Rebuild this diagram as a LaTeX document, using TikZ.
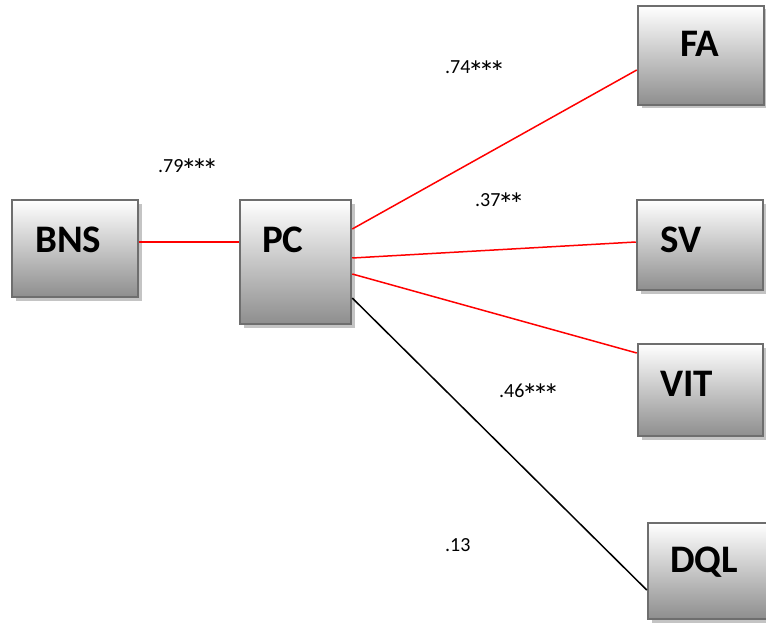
\documentclass[tikz,border=0pt]{standalone}
\usepackage{fontspec}
\setmainfont{Carlito}
\usetikzlibrary{shadows}
\definecolor{boxedge}{HTML}{6E6E6E}
\definecolor{boxbot}{HTML}{8E8E8E}
\definecolor{shadowgray}{HTML}{C4C4C4}
\definecolor{pathred}{HTML}{FF0000}
\newcommand\sast{\setbox0\hbox{\scalebox{1.6}{*}}\setbox2\hbox{7}\kern-0.13em\raisebox{\dimexpr\ht2-\ht0\relax}{\copy0}\kern-0.13em}
\tikzset{
  vbox/.style={rectangle, draw=boxedge, line width=2.5pt, top color=white, bottom color=boxbot,
    inner sep=0pt, general shadow={fill=shadowgray, shadow xshift=3.5pt, shadow yshift=-3.5pt}},
  vname/.style={anchor=base west, inner sep=0pt, font=\fontsize{39}{39}\selectfont\bfseries},
  coef/.style={anchor=base west, inner sep=0pt, font=\fontsize{20}{20}\selectfont},
  sigpath/.style={draw=pathred, line width=1.5pt},
  nspath/.style={draw=black, line width=1.5pt}
}
\begin{document}
\begin{tikzpicture}[x=1pt, y=-1pt]
\useasboundingbox (0,0) rectangle (766,623);
% boxes
\node[vbox, minimum width=126pt, minimum height=97pt] (BNS) at (75,248.5) {};
\node[vbox, minimum width=111pt, minimum height=124pt] (PC) at (295.5,262) {};
\node[vbox, minimum width=126pt, minimum height=99pt] (FA) at (701,55.5) {};
\node[vbox, minimum width=126pt, minimum height=90pt] (SV) at (700,245) {};
\node[vbox, minimum width=125pt, minimum height=92pt] (VIT) at (700.5,390) {};
\node[vbox, minimum width=124pt, minimum height=96pt] (DQL) at (710,571) {};
% box names
\node[vname] (tBNS) at (35,252) {BNS};
\node[vname] (tPC) at (262,252) {PC};
\node[vname] (tFA) at (680,57) {FA};
\node[vname] (tSV) at (660,252) {SV};
\node[vname] (tVIT) at (660,396) {VIT};
\node[vname] (tDQL) at (670,572) {DQL};
% connectors
\draw[sigpath] ([yshift=6.5pt]BNS.east) -- ([yshift=20pt]PC.west);
\draw[sigpath] ([yshift=33pt]PC.east) -- ([yshift=-14.5pt]FA.west);
\draw[sigpath] ([yshift=4pt]PC.east) -- ([yshift=3pt]SV.west);
\draw[sigpath] ([yshift=-12pt]PC.east) -- ([yshift=37pt]VIT.west);
\draw[nspath] ([yshift=-36pt]PC.east) -- ([yshift=-19pt]DQL.west);
% coefficients
\node[coef] (c1) at (158,172) {.79\sast\sast\sast};
\node[coef] (c2) at (445,74) {.74\sast\sast\sast};
\node[coef] (c3) at (475,206) {.37\sast\sast};
\node[coef] (c4) at (499,397) {.46\sast\sast\sast};
\node[coef] (c5) at (445,551) {.13};
\end{tikzpicture}
\end{document}
